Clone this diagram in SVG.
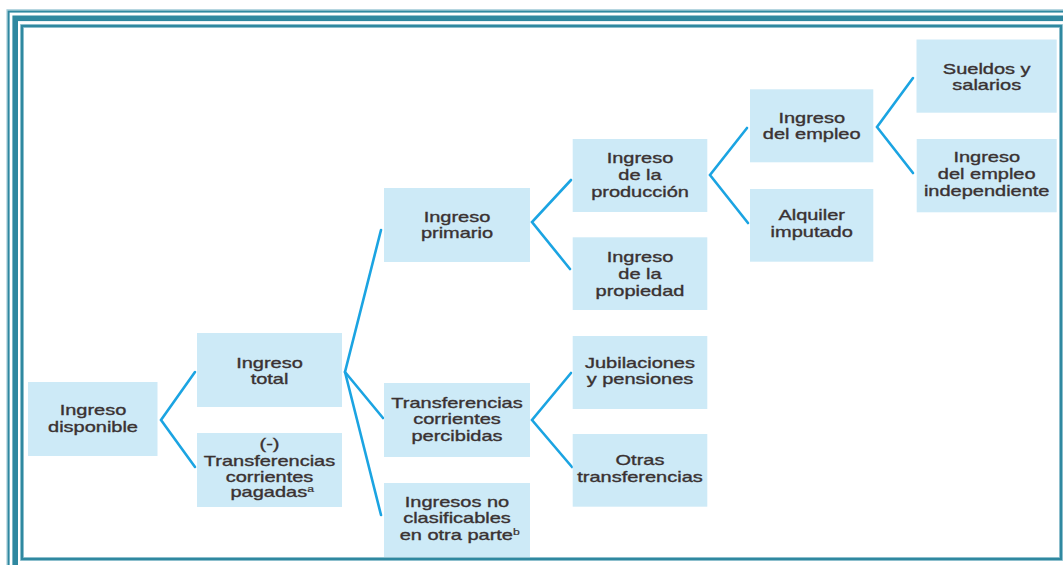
<svg xmlns="http://www.w3.org/2000/svg" width="1063" height="565" viewBox="0 0 1063 565">
<style>
.box{fill:#cdeaf7}
.t{font-family:"Liberation Sans",Arial,sans-serif;font-size:14.8px;fill:#3a3232;stroke:#3a3232;stroke-width:0.35;text-anchor:middle}
.sup{font-size:9px;stroke-width:0.2}
.c{stroke:#1ba4e2;stroke-width:2.6;fill:none;stroke-linecap:round;stroke-linejoin:miter}
.fr{fill:none;stroke:#2f88a0}
.frl{fill:none;stroke:#a5cdd9}
</style>
<rect width="1063" height="565" fill="#ffffff"/>
<g id="frame">
<rect class="frl" x="8" y="10.8" width="1070" height="570" stroke-width="3.2"/>
<rect class="fr" x="8.6" y="11.6" width="1070" height="570" stroke-width="1.8"/>
<rect class="fr" x="15.2" y="18.3" width="1055" height="550" stroke-width="5.6"/>
<rect class="frl" x="22" y="26" width="1039" height="533" stroke-width="4"/>
<rect class="fr" x="22" y="26" width="1039" height="533" stroke-width="2.4"/>
</g>
<g id="connectors">
<polyline class="c" points="195,372 161,420 195,467"/>
<polyline class="c" points="381,230 345,372 383,418"/>
<line class="c" x1="345" y1="372" x2="381" y2="515"/>
<polyline class="c" points="571,180 532,222 570,269"/>
<polyline class="c" points="571,373 532,420 572,467"/>
<polyline class="c" points="747,128 710,175 748,223"/>
<polyline class="c" points="913,78 877,127 913,173"/>
</g>
<g id="n-disponible">
<rect class="box" x="28" y="382" width="129.5" height="74"/>
<text class="t" transform="translate(93 0) scale(1.35 1)"><tspan x="0" y="415.3">Ingreso</tspan><tspan x="0" y="431.8">disponible</tspan></text>
</g>
<g id="n-total">
<rect class="box" x="197" y="333" width="145" height="74"/>
<text class="t" transform="translate(269.5 0) scale(1.35 1)"><tspan x="0" y="367.8">Ingreso</tspan><tspan x="0" y="384.2">total</tspan></text>
</g>
<g id="n-pagadas">
<rect class="box" x="197" y="433" width="145" height="74"/>
<text class="t" transform="translate(269.5 0) scale(1.35 1)"><tspan x="0" y="449">(-)</tspan><tspan x="0" y="465.6">Transferencias</tspan><tspan x="0" y="482">corrientes</tspan><tspan x="2" y="497.5">pagadas<tspan class="sup" dy="-5">a</tspan></tspan></text>
</g>
<g id="n-primario">
<rect class="box" x="384" y="188" width="146" height="74"/>
<text class="t" transform="translate(457 0) scale(1.35 1)"><tspan x="0" y="221.7">Ingreso</tspan><tspan x="0" y="238.3">primario</tspan></text>
</g>
<g id="n-percibidas">
<rect class="box" x="384" y="383" width="146" height="74"/>
<text class="t" transform="translate(457 0) scale(1.35 1)"><tspan x="0" y="407.7">Transferencias</tspan><tspan x="0" y="424.3">corrientes</tspan><tspan x="0" y="441">percibidas</tspan></text>
</g>
<g id="n-noclasificables">
<rect class="box" x="384" y="483" width="146" height="74"/>
<text class="t" transform="translate(457 0) scale(1.35 1)"><tspan x="0" y="506.7">Ingresos no</tspan><tspan x="0" y="523.3">clasificables</tspan><tspan x="2" y="540">en otra parte<tspan class="sup" dy="-5">b</tspan></tspan></text>
</g>
<g id="n-produccion">
<rect class="box" x="572.7" y="139" width="134.6" height="73"/>
<text class="t" transform="translate(640 0) scale(1.35 1)"><tspan x="0" y="163.5">Ingreso</tspan><tspan x="0" y="180">de la</tspan><tspan x="0" y="196.7">producción</tspan></text>
</g>
<g id="n-propiedad">
<rect class="box" x="572.7" y="237.3" width="134.6" height="72.7"/>
<text class="t" transform="translate(640 0) scale(1.35 1)"><tspan x="0" y="262.3">Ingreso</tspan><tspan x="0" y="279">de la</tspan><tspan x="0" y="296">propiedad</tspan></text>
</g>
<g id="n-jubilaciones">
<rect class="box" x="572.7" y="336" width="134.6" height="73"/>
<text class="t" transform="translate(640 0) scale(1.35 1)"><tspan x="0" y="368.3">Jubilaciones</tspan><tspan x="0" y="384.5">y pensiones</tspan></text>
</g>
<g id="n-otras">
<rect class="box" x="572.7" y="434" width="134.6" height="72.7"/>
<text class="t" transform="translate(640 0) scale(1.35 1)"><tspan x="0" y="465">Otras</tspan><tspan x="0" y="481.7">transferencias</tspan></text>
</g>
<g id="n-empleo">
<rect class="box" x="750" y="89.3" width="123.3" height="73"/>
<text class="t" transform="translate(811.7 0) scale(1.35 1)"><tspan x="0" y="122.7">Ingreso</tspan><tspan x="0" y="139.5">del empleo</tspan></text>
</g>
<g id="n-alquiler">
<rect class="box" x="750" y="189" width="123.3" height="72.7"/>
<text class="t" transform="translate(811.7 0) scale(1.35 1)"><tspan x="0" y="220.3">Alquiler</tspan><tspan x="0" y="237">imputado</tspan></text>
</g>
<g id="n-sueldos">
<rect class="box" x="916.5" y="39.5" width="140.2" height="73.2"/>
<text class="t" transform="translate(986.7 0) scale(1.35 1)"><tspan x="0" y="74.2">Sueldos y</tspan><tspan x="0" y="90.3">salarios</tspan></text>
</g>
<g id="n-independiente">
<rect class="box" x="916.7" y="139" width="140" height="73.3"/>
<text class="t" transform="translate(986.7 0) scale(1.35 1)"><tspan x="0" y="162.5">Ingreso</tspan><tspan x="0" y="179">del empleo</tspan><tspan x="0" y="195.7">independiente</tspan></text>
</g>
</svg>
